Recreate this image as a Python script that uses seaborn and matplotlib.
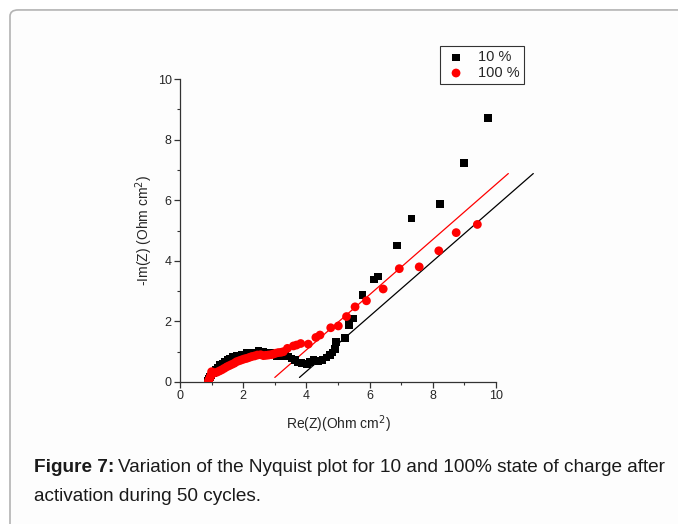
import matplotlib
matplotlib.use("Agg")
import matplotlib.pyplot as plt
from matplotlib.patches import FancyBboxPatch
import seaborn as sns
import pandas as pd

# ---- data ----
x_10 = [0.87, 0.90, 0.95, 1.00, 1.05, 1.12, 1.20, 1.27, 1.35, 1.42, 1.50, 1.58, 1.68,
        1.79, 1.87, 1.95, 2.11, 2.27, 2.48, 2.64, 2.85, 3.06, 3.27, 3.32, 3.43, 3.53,
        3.64, 3.74, 3.85, 4.01, 4.11, 4.22, 4.38, 4.51, 4.64, 4.75, 4.83, 4.91, 4.94,
        5.23, 5.33, 5.35, 5.48, 5.78, 6.14, 6.27, 6.87, 7.32, 8.22, 8.98, 9.74]
y_10 = [0.05, 0.10, 0.17, 0.24, 0.30, 0.40, 0.48, 0.56, 0.60, 0.67, 0.72, 0.78, 0.82,
        0.86, 0.88, 0.90, 0.97, 0.95, 1.03, 1.00, 0.95, 0.86, 0.84, 0.89, 0.84, 0.78,
        0.73, 0.64, 0.62, 0.59, 0.67, 0.73, 0.70, 0.73, 0.81, 0.89, 0.98, 1.08, 1.32,
        1.46, 1.97, 1.86, 2.10, 2.88, 3.38, 3.48, 4.51, 5.39, 5.88, 7.22, 8.72]

x_100 = [0.90, 0.92, 0.95, 0.97, 1.00, 1.00, 1.08, 1.16, 1.24, 1.32, 1.40, 1.48, 1.56,
         1.64, 1.72, 1.79, 1.87, 1.95, 2.03, 2.11, 2.19, 2.27, 2.36, 2.45, 2.55, 2.64,
         2.72, 2.80, 2.88, 2.95, 3.03, 3.11, 3.20, 3.27, 3.40, 3.59, 3.69, 3.82, 4.06,
         4.30, 4.43, 4.77, 5.01, 5.27, 5.54, 5.90, 6.43, 6.94, 7.57, 8.19, 8.74, 9.41]
y_100 = [0.02, 0.08, 0.14, 0.20, 0.34, 0.26, 0.30, 0.32, 0.36, 0.40, 0.45, 0.50, 0.54,
         0.58, 0.62, 0.67, 0.70, 0.73, 0.76, 0.78, 0.81, 0.84, 0.86, 0.89, 0.90, 0.87,
         0.88, 0.89, 0.90, 0.92, 0.95, 0.97, 0.98, 1.00, 1.11, 1.19, 1.22, 1.27, 1.25,
         1.47, 1.55, 1.79, 1.85, 2.16, 2.48, 2.68, 3.07, 3.74, 3.80, 4.33, 4.93, 5.20]

# linear fits drawn in the reference (endpoints)
fit_10_x = [3.78, 11.18]
fit_10_y = [0.15, 6.88]
fit_100_x = [3.00, 10.39]
fit_100_y = [0.15, 6.88]

series_labels = ["10 %", "100 %"]
x_ticks = [0, 2, 4, 6, 8, 10]
y_ticks = [0, 2, 4, 6, 8, 10]

df = pd.DataFrame({
    "x": x_10 + x_100,
    "y": y_10 + y_100,
    "series": [series_labels[0]] * len(x_10) + [series_labels[1]] * len(x_100),
})

sns.set_style("ticks")
plt.rcParams["font.family"] = ["Liberation Sans", "DejaVu Sans"]

fig = plt.figure(figsize=(6.78, 5.24), dpi=100)
fig.patch.set_facecolor("white")

# rounded frame around the figure
frame = FancyBboxPatch((10 / 678, -0.05), 1.2, 0.981 + 0.05,
                       boxstyle="round,pad=0,rounding_size=0.012",
                       transform=fig.transFigure, facecolor="#fdfdfd",
                       edgecolor="#b3b3b3", linewidth=1.2, zorder=-5)
fig.patches.append(frame)

ax = fig.add_axes([180 / 678, 142 / 524, 316 / 678, 303 / 524])
ax.set_facecolor("none")
ax.set_zorder(2)

sns.scatterplot(data=df[df.series == series_labels[0]], x="x", y="y", ax=ax,
                marker="s", s=30, color="black", edgecolor="none",
                label=series_labels[0], zorder=3)
sns.scatterplot(data=df[df.series == series_labels[1]], x="x", y="y", ax=ax,
                marker="o", s=40, color="#ff0000", edgecolor="none",
                label=series_labels[1], zorder=4)
sns.lineplot(x=fit_10_x, y=fit_10_y, ax=ax, color="black", linewidth=0.9,
             legend=False, zorder=2)
sns.lineplot(x=fit_100_x, y=fit_100_y, ax=ax, color="#ff0000", linewidth=0.9,
             legend=False, zorder=2)
for ln in ax.get_lines():
    ln.set_clip_on(False)

ax.set_xlim(0, 10)
ax.set_ylim(0, 10)
ax.set_xticks(x_ticks)
ax.set_yticks(y_ticks)
ax.set_xticks([1, 3, 5, 7, 9], minor=True)
ax.set_yticks([1, 3, 5, 7, 9], minor=True)
for s in ["top", "right"]:
    ax.spines[s].set_visible(False)
for s in ["left", "bottom"]:
    ax.spines[s].set_color("#333333")
    ax.spines[s].set_linewidth(0.9)
ax.tick_params(which="major", direction="out", length=4, width=0.9,
               color="#333333", labelsize=9, pad=2)
ax.tick_params(which="minor", direction="out", length=2.5, width=0.8, color="#333333")
ax.set_xlabel("Re(Z)(Ohm cm$^2$)", fontsize=10, labelpad=8)
ax.set_ylabel("-Im(Z) (Ohm cm$^2$)", fontsize=10, labelpad=2)

leg = ax.legend(loc="upper left", bbox_to_anchor=(440 / 678, 1 - 46 / 524),
                bbox_transform=fig.transFigure, frameon=True, fancybox=False,
                edgecolor="black", fontsize=10.5, handletextpad=0.7,
                borderpad=0.3, labelspacing=0.1, handlelength=1.6,
                borderaxespad=0)
leg.get_frame().set_linewidth(0.8)

# caption
fig.canvas.draw()
t1 = fig.text(34 / 678, 1 - 472 / 524, "Figure 7:", fontsize=13.7,
              fontweight="bold", color="#1a1a1a")
r = fig.canvas.get_renderer()
bb = t1.get_window_extent(renderer=r)
fig.text(bb.x1 / fig.bbox.width + 4 / 678, 1 - 472 / 524,
         "Variation of the Nyquist plot for 10 and 100% state of charge after",
         fontsize=13.7, color="#1a1a1a")
fig.text(34 / 678, 1 - 501 / 524, "activation during 50 cycles.",
         fontsize=13.7, color="#1a1a1a")

fig.savefig("out.png", dpi=100)
